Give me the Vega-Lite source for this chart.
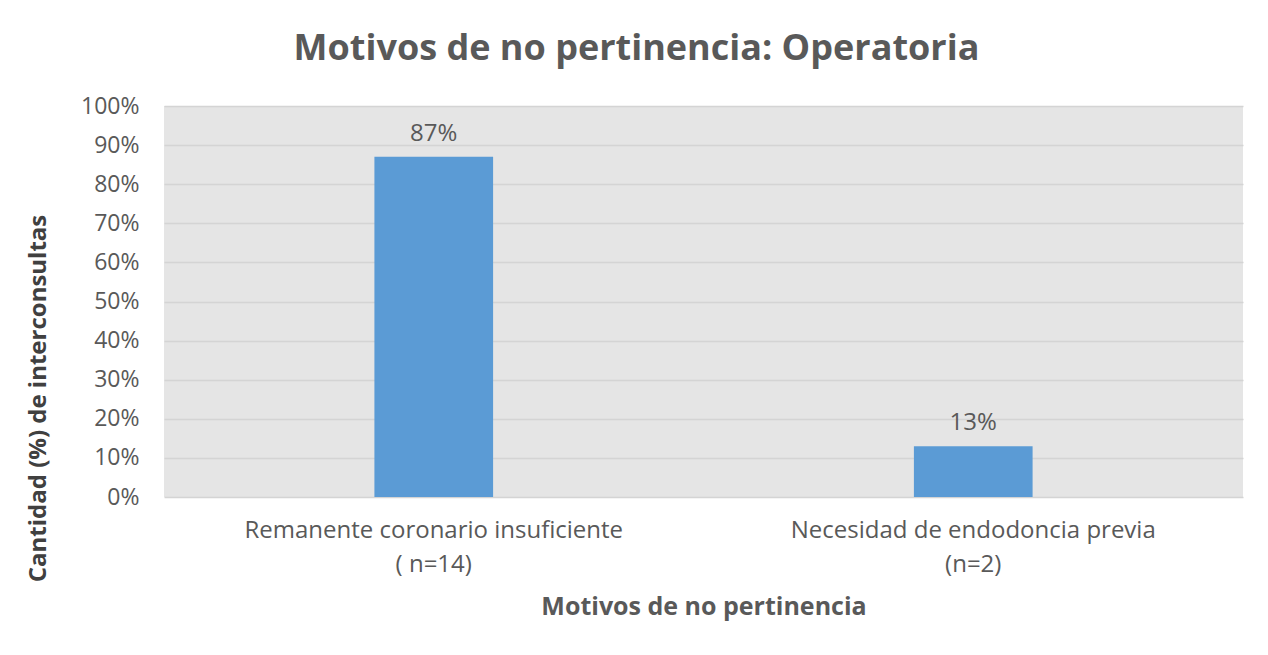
{
  "$schema": "https://vega.github.io/schema/vega-lite/v6.json",
  "width": 1079,
  "height": 391,
  "autosize": {"type": "none"},
  "padding": {"left": 164, "top": 106, "right": 25, "bottom": 158},
  "background": "white",
  "title": {
    "text": "Motivos de no pertinencia: Operatoria",
    "font": "Open Sans",
    "fontSize": 36,
    "fontWeight": "bold",
    "color": "#595959",
    "anchor": "middle",
    "dx": -67,
    "offset": 27
  },
  "data": {
    "values": [
      {"motivo": "Remanente coronario insuficiente\n( n=14)", "pct": 0.87},
      {"motivo": "Necesidad de endodoncia previa\n(n=2)", "pct": 0.13}
    ]
  },
  "encoding": {
    "x": {
      "field": "motivo",
      "type": "nominal",
      "sort": null,
      "scale": {"paddingInner": 0.78, "paddingOuter": 0.39},
      "axis": {
        "title": "Motivos de no pertinencia",
        "labelAngle": 0,
        "labelExpr": "split(datum.value, '\\n')",
        "labelLimit": 0,
        "labelFont": "Open Sans",
        "labelFontSize": 24,
        "labelColor": "#595959",
        "labelLineHeight": 34,
        "labelBaseline": "top",
        "labelPadding": 21,
        "ticks": false,
        "domain": false,
        "titleFont": "Open Sans",
        "titleFontSize": 25,
        "titleFontWeight": "bold",
        "titleColor": "#595959",
        "titlePadding": 18
      }
    },
    "y": {
      "field": "pct",
      "type": "quantitative",
      "scale": {"domain": [0, 1], "nice": false},
      "axis": {
        "title": "Cantidad (%) de interconsultas",
        "format": ".0%",
        "values": [0, 0.1, 0.2, 0.3, 0.4, 0.5, 0.6, 0.7, 0.8, 0.9, 1],
        "labelFont": "Open Sans",
        "labelFontSize": 23,
        "labelColor": "#595959",
        "labelPadding": 25,
        "ticks": false,
        "domain": false,
        "gridColor": "#d4d4d4",
        "gridWidth": 1.5,
        "titleFont": "Open Sans",
        "titleFontSize": 24,
        "titleFontWeight": "bold",
        "titleColor": "#404040",
        "titleX": -126,
        "titleY": 292,
        "titleBaseline": "middle",
        "titleAngle": -90
      }
    }
  },
  "layer": [
    {"mark": {"type": "bar", "color": "#5b9bd5"}},
    {
      "mark": {"type": "text", "baseline": "bottom", "dy": -11, "font": "Open Sans", "fontSize": 24, "color": "#595959"},
      "encoding": {"text": {"field": "pct", "type": "quantitative", "format": ".0%"}}
    }
  ],
  "config": {
    "view": {"fill": "#e5e5e5", "stroke": null}
  }
}
